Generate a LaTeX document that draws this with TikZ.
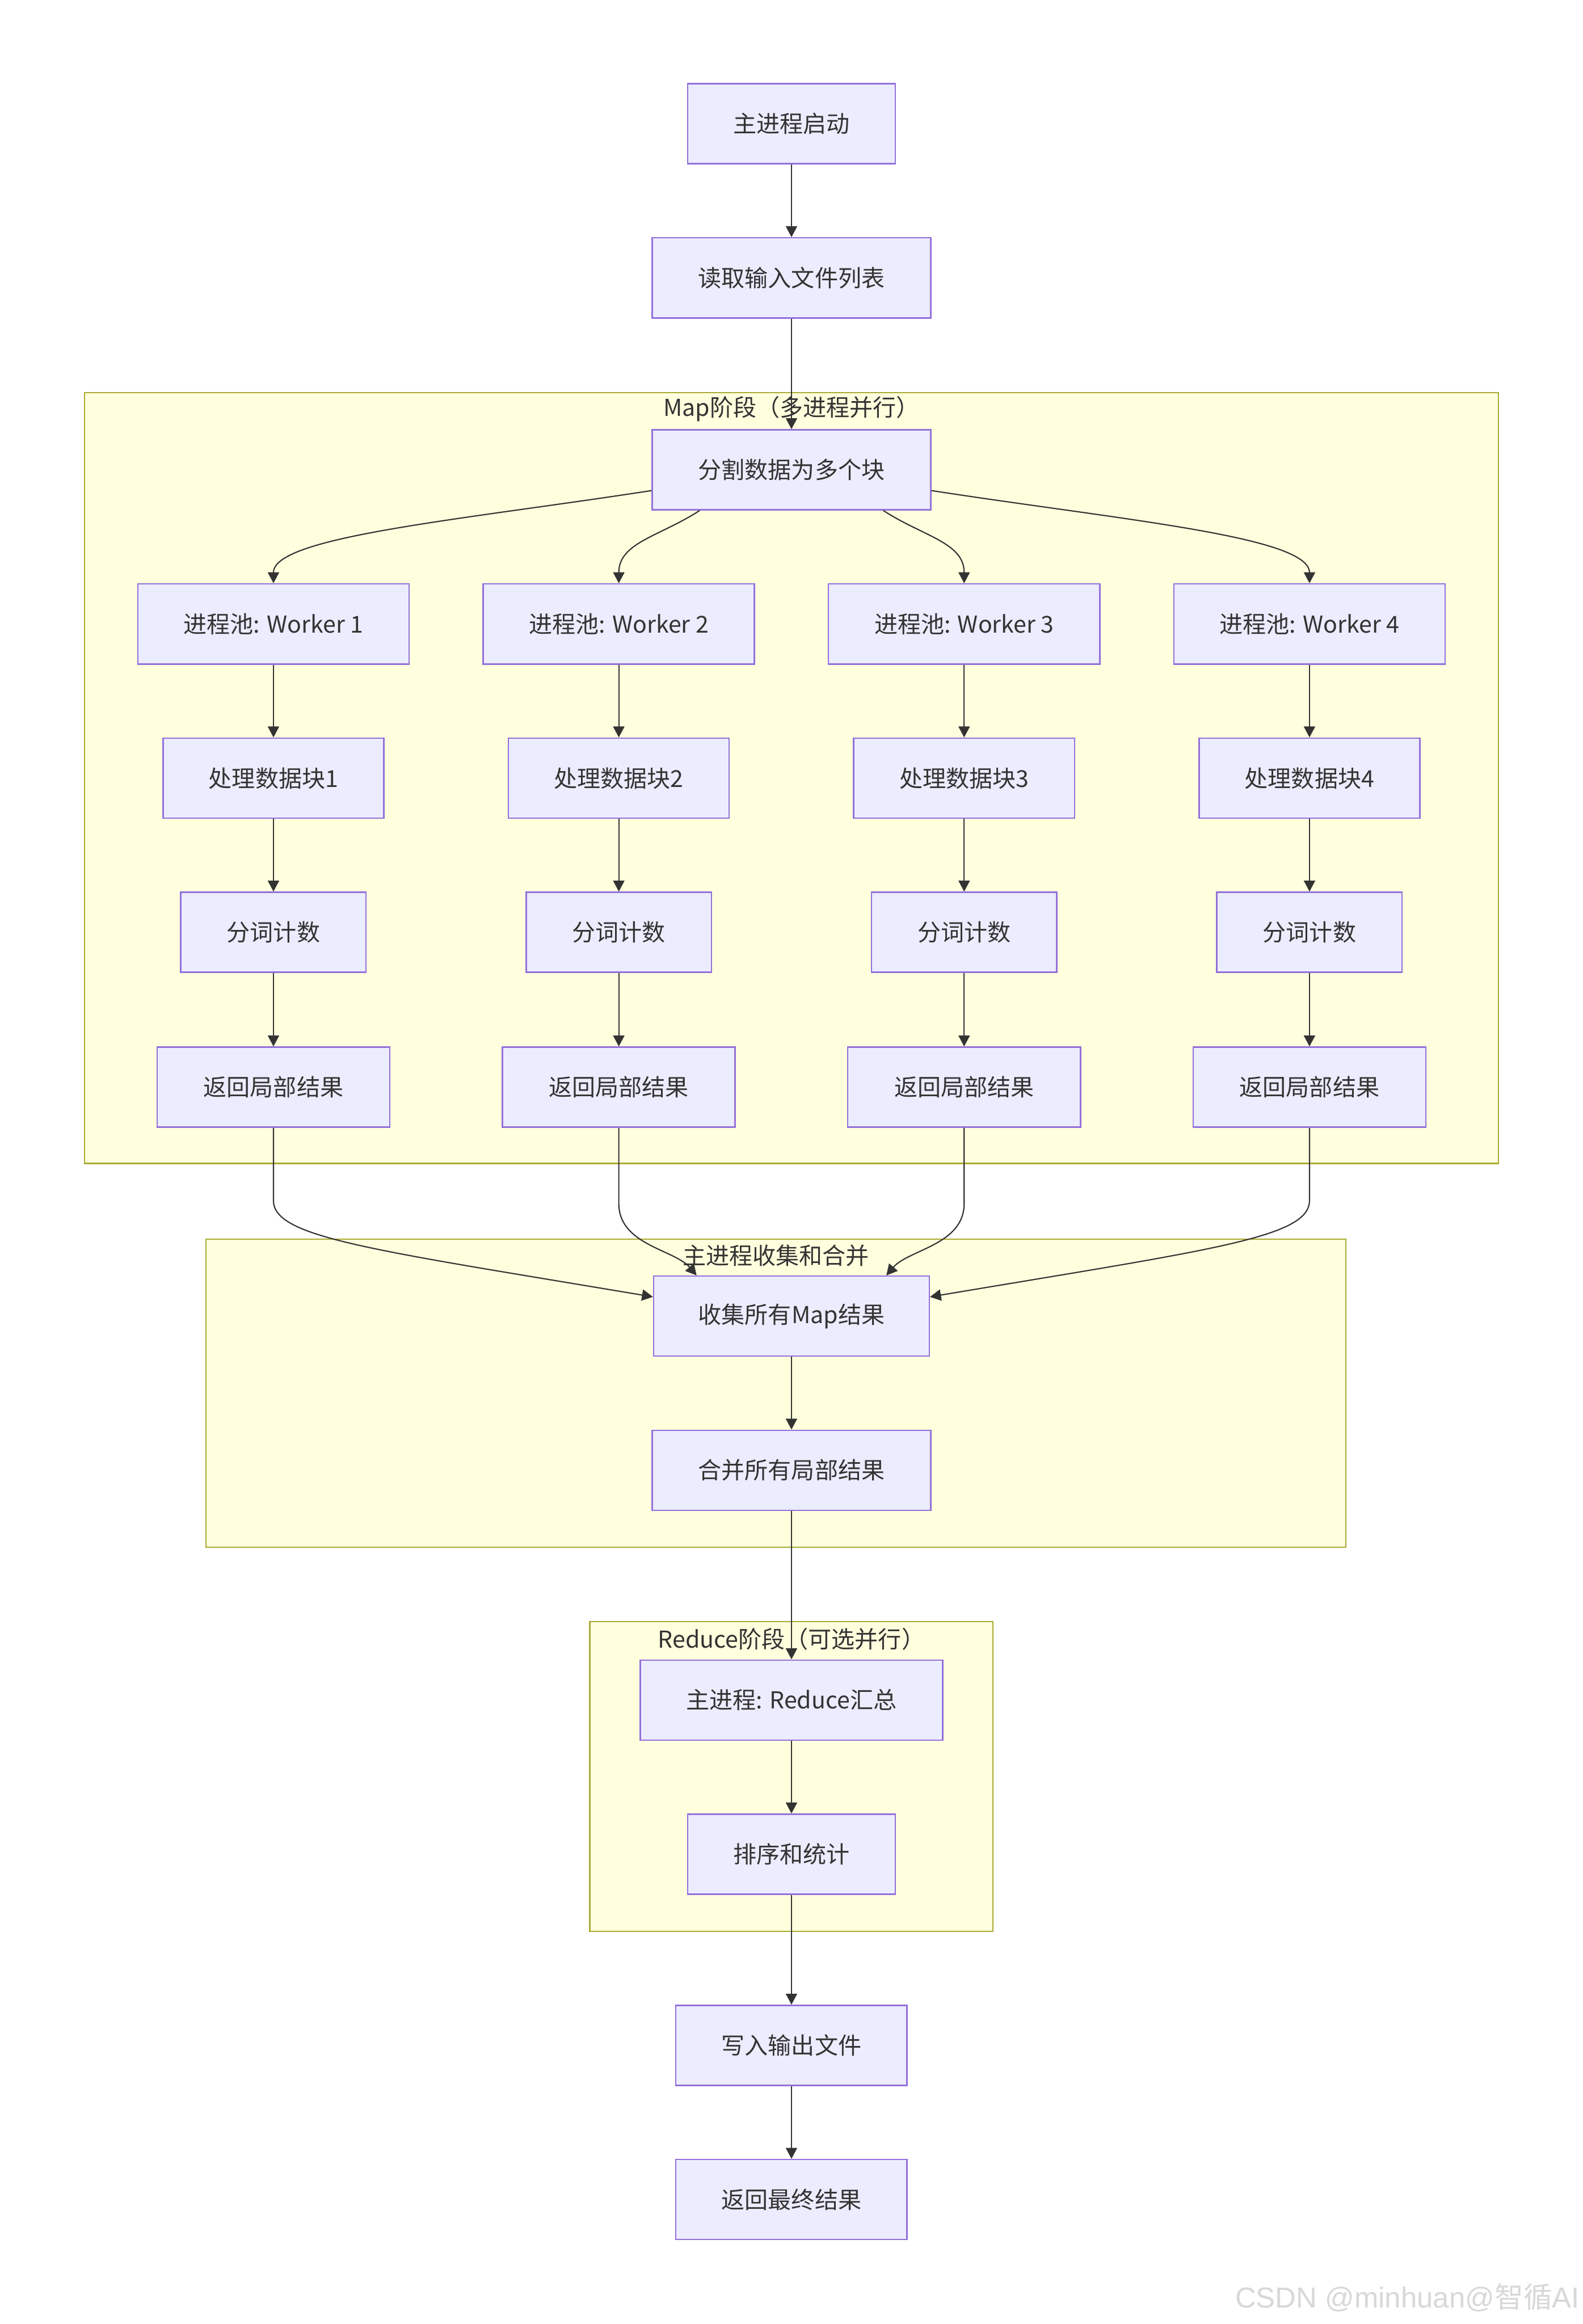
\documentclass[tikz,border=0pt]{standalone}
\usepackage{fontspec}
\setmainfont{Noto Sans CJK SC}
\newfontfamily\wmfont{Liberation Sans}
\newfontfamily\wmcjk{Noto Sans CJK SC}
\usetikzlibrary{arrows.meta,calc}
\newdimen\pxu \pxu=0.02994cm
\definecolor{nodefill}{HTML}{ECECFF}
\definecolor{nodeline}{HTML}{9370DB}
\definecolor{clfill}{HTML}{FFFFDE}
\definecolor{clline}{HTML}{AAAA33}
\definecolor{txt}{HTML}{333333}
\definecolor{wm}{HTML}{D8D8D8}
\begin{document}
\begin{tikzpicture}[x=0.02994cm, y=-0.02994cm,
  box/.style={draw=nodeline, fill=nodefill, line width=0.8pt, minimum height=54*\pxu, inner sep=0pt, text=txt, font=\fontsize{13.4}{16}\selectfont},
  cluster/.style={draw=clline, fill=clfill, line width=0.8pt, inner sep=0pt},
  cltitle/.style={text=txt, font=\fontsize{13.4}{16}\selectfont, inner sep=0pt},
  flow/.style={draw=txt, line width=0.7pt, -{Triangle[length=6.3pt,width=6.5pt]}}
]
\fill[white] (0,0) rectangle (1068,1568);
\useasboundingbox (0,0) rectangle (1068,1568);

% clusters
\node[cluster, minimum width=954*\pxu, minimum height=520*\pxu] (mapcl) at (534,525) {};
\node[cltitle] (maptitle) at (534,276) {Map阶段（多进程并行）};
\node[cluster, minimum width=769*\pxu, minimum height=208*\pxu] (colcl) at (523.5,940) {};
\node[cltitle] (coltitle) at (523.5,847) {主进程收集和合并};
\node[cluster, minimum width=272*\pxu, minimum height=209*\pxu] (redcl) at (534,1198.5) {};
\node[cltitle] (redtitle) at (534,1106) {Reduce阶段（可选并行）};

% main nodes
\node[box, minimum width=140*\pxu] (n1) at (534,83.5) {主进程启动};
\node[box, minimum width=188*\pxu] (n2) at (534,187.5) {读取输入文件列表};
\node[box, minimum width=188*\pxu] (n3) at (534,317) {分割数据为多个块};

\foreach \i/\x in {1/184.5, 2/417.5, 3/650.5, 4/883.5}{
  \node[box, minimum width=183*\pxu] (w\i) at (\x,421) {进程池: Worker \i};
  \node[box, minimum width=149*\pxu] (p\i) at (\x,525) {处理数据块\i};
  \node[box, minimum width=125*\pxu] (c\i) at (\x,629) {分词计数};
  \node[box, minimum width=157*\pxu] (r\i) at (\x,733.5) {返回局部结果};
}

\node[box, minimum width=186*\pxu] (col) at (534,888) {收集所有Map结果};
\node[box, minimum width=188*\pxu] (mer) at (534,992) {合并所有局部结果};
\node[box, minimum width=204*\pxu] (red) at (534,1147) {主进程: Reduce汇总};
\node[box, minimum width=140*\pxu] (srt) at (534,1251) {排序和统计};
\node[box, minimum width=156*\pxu] (wr) at (534,1380) {写入输出文件};
\node[box, minimum width=156*\pxu] (fin) at (534,1484) {返回最终结果};

% edges
\draw[flow] (n1.south) -- (n2.north);
\draw[flow] (n2.south) -- (n3.north);

\draw[flow] ([yshift=-14*\pxu]n3.west) .. controls (310,351) and (184.5,362) .. (w1.north);
\draw[flow] ([xshift=-62*\pxu]n3.south) .. controls (445,362) and (417.5,366) .. (w2.north);
\draw[flow] ([xshift=62*\pxu]n3.south) .. controls (623,362) and (650.5,366) .. (w3.north);
\draw[flow] ([yshift=-14*\pxu]n3.east) .. controls (758,351) and (883.5,362) .. (w4.north);

\foreach \i in {1,2,3,4}{
  \draw[flow] (w\i.south) -- (p\i.north);
  \draw[flow] (p\i.south) -- (c\i.north);
  \draw[flow] (c\i.south) -- (r\i.north);
}

\draw[flow] (r1.south) -- (184.5,810) .. controls (184.5,835) and (250,843) .. ([yshift=13*\pxu]col.west);
\draw[flow] (r2.south) -- (417.5,812) .. controls (417.5,840) and (455,843) .. ([xshift=-64*\pxu]col.north);
\draw[flow] (r3.south) -- (650.5,812) .. controls (650.5,840) and (613,843) .. ([xshift=64*\pxu]col.north);
\draw[flow] (r4.south) -- (883.5,810) .. controls (883.5,835) and (818,843) .. ([yshift=13*\pxu]col.east);

\draw[flow] (col.south) -- (mer.north);
\draw[flow] (mer.south) -- (red.north);
\draw[flow] (red.south) -- (srt.north);
\draw[flow] (srt.south) -- (wr.north);
\draw[flow] (wr.south) -- (fin.north);

% watermark
\node[anchor=base east, text=wm, font=\wmfont\fontsize{16.6}{18}\selectfont, inner sep=0pt] (wmk) at (1066,1557) {CSDN @minhuan@{\wmcjk 智循}AI};
\end{tikzpicture}
\end{document}
